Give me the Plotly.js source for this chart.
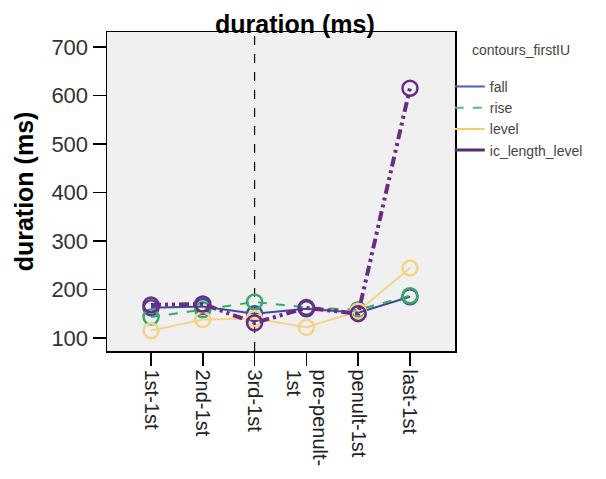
<!DOCTYPE html>
<html>
<head>
<meta charset="utf-8">
<script src="https://cdn.plot.ly/plotly-3.0.1.min.js"></script>
<style>html,body{margin:0;padding:0;background:#fff;}#chart{width:606px;height:479px;}</style>
</head>
<body>
<div id="chart"></div>
<script>
const categories = ["1st-1st", "2nd-1st", "3rd-1st", "pre-penult-<br>1st", "penult-1st", "last-1st"];
const fallValues = [162, 165, 150, 160, 152, 185];
const riseValues = [143, 158, 174, 163, 158, 187];
const levelValues = [115, 138, 140, 122, 155, 244];
const icLengthLevelValues = [168, 170, 131, 162, 150, 615];
const seriesNames = ["fall", "rise", "level", "ic_length_level"];
const legendTitle = "contours_firstIU";
const yTicks = [100, 200, 300, 400, 500, 600, 700];
const markerLine = "3rd-1st";

const idx = categories.map((_, i) => i);
const styles = [
  {color: "#3b4a9c", legendColor: "#4a5fb3", dash: "solid", width: 2},
  {color: "#3aa86a", legendColor: "#5fb87a", dash: "dash", width: 2},
  {color: "#f5d48a", legendColor: "#f5cf6a", dash: "solid", width: 2},
  {color: "#6a2b86", legendColor: "#5a2a70", dash: "10px,4px,3px,4px,3px,4px", width: 4}
];
const seriesValues = [fallValues, riseValues, levelValues, icLengthLevelValues];
const data = [];
seriesValues.forEach((y, i) => {
  const s = styles[i];
  data.push({
    x: idx, y: y, name: seriesNames[i], type: "scatter", mode: "lines+markers", showlegend: false,
    line: {color: s.color, dash: s.dash, width: s.width},
    marker: {symbol: "circle-open", size: 15, line: {width: 2.5, color: s.color}, color: s.color}
  });
});
seriesNames.forEach((name, i) => {
  const s = styles[i];
  data.push({
    x: [null], y: [null], name: name, type: "scatter", mode: "lines", showlegend: true,
    line: {color: s.legendColor, dash: i === 3 ? "solid" : s.dash, width: i === 3 ? 3 : 2}
  });
});
const font = "Arial, 'Liberation Sans', sans-serif";
const layout = {
  width: 606, height: 479,
  margin: {l: 107, r: 151, t: 32, b: 128},
  paper_bgcolor: "#ffffff",
  plot_bgcolor: "#f0f0f0",
  font: {family: font, color: "#333"},
  title: {text: "<b>duration (ms)</b>", font: {size: 25, color: "#000", family: font}, x: 0.54, xref: "paper", xanchor: "center", y: 0.95, yref: "container", yanchor: "middle"},
  xaxis: {
    range: [-0.85, 5.87], tickmode: "array", tickvals: idx, ticktext: categories,
    tickangle: 90, tickfont: {size: 20, color: "#222"},
    ticks: "outside", ticklen: 13, tickwidth: 1.5, tickcolor: "#000",
    showgrid: false, zeroline: false, showline: true, linecolor: "#000", linewidth: 1.5, mirror: true
  },
  yaxis: {
    range: [73, 731], tickvals: yTicks, tickfont: {size: 22, color: "#333"},
    ticks: "outside", ticklen: 13, tickwidth: 1.5, tickcolor: "#000",
    showgrid: false, zeroline: false, showline: true, linecolor: "#000", linewidth: 1.5, mirror: true,
    title: {text: "<b>duration (ms)</b>", font: {size: 25, color: "#000", family: font}, standoff: 10}
  },
  shapes: [{type: "line", xref: "x", yref: "paper", x0: categories.indexOf(markerLine), x1: categories.indexOf(markerLine), y0: 0, y1: 1, line: {color: "#000", width: 1.2, dash: "dash"}, layer: "below"}],
  annotations: [{text: legendTitle, xref: "paper", yref: "paper", x: 1.043, y: 0.9435, xanchor: "left", yanchor: "middle", showarrow: false, font: {size: 14, color: "#444"}}],
  legend: {
    x: 0.985, xanchor: "left", y: 0.878, yanchor: "top",
    font: {size: 14, color: "#444"}, bgcolor: "rgba(0,0,0,0)", itemwidth: 30, tracegroupgap: 0
  },
  showlegend: true
};
Plotly.newPlot("chart", data, layout, {staticPlot: true, displayModeBar: false});
</script>
</body>
</html>
